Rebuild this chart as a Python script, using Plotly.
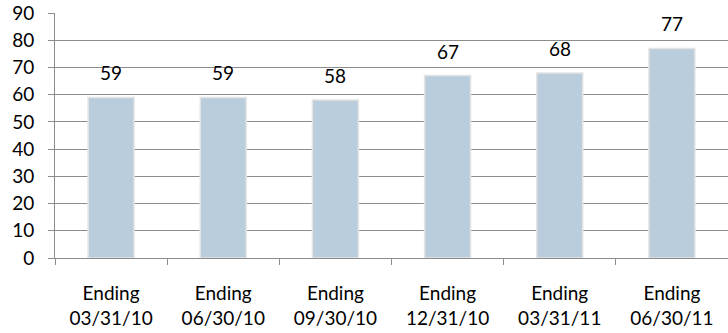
import plotly.graph_objects as go

categories = ["Ending<br>03/31/10", "Ending<br>06/30/10", "Ending<br>09/30/10",
              "Ending<br>12/31/10", "Ending<br>03/31/11", "Ending<br>06/30/11"]
values = [59, 59, 58, 67, 68, 77]
y_ticks = [0, 10, 20, 30, 40, 50, 60, 70, 80, 90]

FONT = "Lato, Open Sans, sans-serif"

fig = go.Figure()
fig.add_trace(go.Bar(
    x=categories, y=values,
    marker=dict(color="#b9cddd", line=dict(color="#e4e4e4", width=1.5)),
    width=0.41,
    hoverinfo="skip",
))
for c, v in zip(categories, values):
    fig.add_annotation(x=c, y=v, text=str(v), showarrow=False,
                       yanchor="bottom", yshift=11,
                       font=dict(family=FONT, size=19, color="#000"))

fig.update_layout(
    width=728, height=333,
    margin=dict(l=55, r=0, t=13, b=75),
    plot_bgcolor="white", paper_bgcolor="white",
    showlegend=False,
    font=dict(family=FONT, size=19, color="#000"),
)
fig.update_yaxes(range=[0, 90], tickvals=y_ticks, showgrid=True,
                 gridcolor="#8c8c8c", gridwidth=1,
                 showline=True, linecolor="#8c8c8c", linewidth=1,
                 ticks="outside", ticklen=6, tickcolor="#8c8c8c",
                 zeroline=False, ticklabelstandoff=10, automargin=False)
fig.update_xaxes(showline=True, linecolor="#8c8c8c", linewidth=1,
                 ticks="outside", tickson="boundaries", ticklen=6,
                 tickcolor="#8c8c8c", ticklabelstandoff=18, automargin=False)

fig.write_html("out.html",
               config={"displayModeBar": False},
               post_script="document.body.style.margin='0';document.body.style.overflow='hidden';")
